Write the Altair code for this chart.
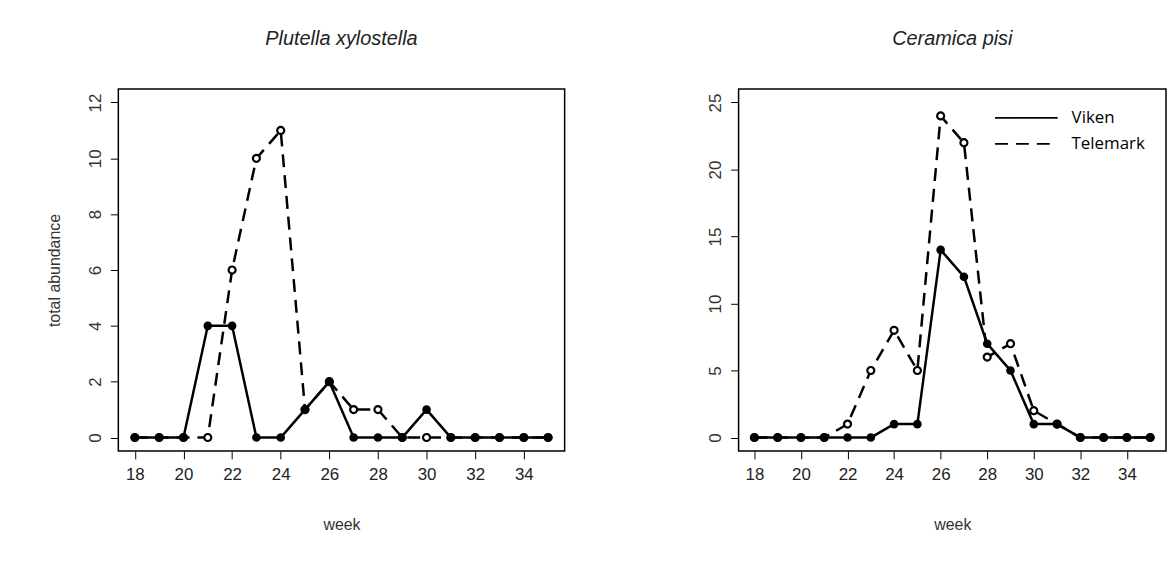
import pandas as pd
import altair as alt

weeks = list(range(18, 36))
plutella_viken = [0, 0, 0, 4, 4, 0, 0, 1, 2, 0, 0, 0, 1, 0, 0, 0, 0, 0]
plutella_telemark = [0, 0, 0, 0, 6, 10, 11, 1, 2, 1, 1, 0, 0, 0, 0, 0, 0, 0]
ceramica_viken = [0, 0, 0, 0, 0, 0, 1, 1, 14, 12, 7, 5, 1, 1, 0, 0, 0, 0]
ceramica_telemark = [0, 0, 0, 0, 1, 5, 8, 5, 24, 22, 6, 7, 2, 1, 0, 0, 0, 0]
legend_labels = ["Viken", "Telemark"]

FONT = "Liberation Sans"


def long(viken, telemark):
    return pd.concat([
        pd.DataFrame({"week": weeks, "abundance": viken, "region": "Viken"}),
        pd.DataFrame({"week": weeks, "abundance": telemark, "region": "Telemark"}),
    ])


def panel(df, title, ydom, yvals, ytitle, legend):
    x = alt.X("week:Q", scale=alt.Scale(domain=[17.32, 35.68], nice=False, zero=False),
              axis=alt.Axis(values=list(range(18, 36, 2)), title="week", titlePadding=34,
                            domain=False, tickColor="black", tickSize=8, grid=False,
                            labelFontSize=17, titleFontSize=16, titleFontWeight="normal",
                            labelColor="#222", titleColor="#333", labelPadding=8))
    y = alt.Y("abundance:Q", scale=alt.Scale(domain=ydom, nice=False, zero=False),
              axis=alt.Axis(values=yvals, title=ytitle, titlePadding=24,
                            domain=False, tickColor="black", tickSize=8, grid=False,
                            labelAngle=-90, labelAlign="center", labelBaseline="bottom",
                            labelFontSize=17, titleFontSize=16, titleFontWeight="normal",
                            labelColor="#333", titleColor="#333", labelPadding=6))
    dash_scale = alt.Scale(domain=legend_labels, range=[[1, 0], [13, 8]])
    dash = alt.StrokeDash("region:N", scale=dash_scale, legend=None)
    base = alt.Chart(df).encode(x=x, y=y)
    lines = base.mark_line(color="black", strokeWidth=2.5).encode(strokeDash=dash, detail="region:N")
    tel = base.transform_filter("datum.region == 'Telemark'").mark_point(
        shape="circle", size=50, filled=False, fill="white", fillOpacity=1,
        stroke="black", strokeWidth=2.2, opacity=1)
    vik = base.transform_filter("datum.region == 'Viken'").mark_point(
        shape="circle", size=75, filled=True, color="black", opacity=1)
    layers = [lines, tel, vik]
    if legend:
        for i, lab in enumerate(legend_labels):
            lb = alt.Chart(pd.DataFrame({"label": [lab]}))
            ypix = 29 + 26 * i
            layers += [
                lb.mark_rule(color="black", strokeWidth=1.8).encode(
                    x=alt.value(258), x2=alt.value(321), y=alt.value(ypix),
                    strokeDash=alt.StrokeDash("label:N", scale=alt.Scale(
                        domain=legend_labels, range=[[1, 0], [12, 7]]), legend=None)),
                lb.mark_text(align="left", baseline="middle", fontSize=17, font="Open Sans",
                             color="black").encode(
                    x=alt.value(335), y=alt.value(ypix), text="label:N"),
            ]
    return alt.layer(*layers).properties(
        width=449, height=364,
        title=alt.Title(title, fontSize=20, fontStyle="italic", fontWeight="normal",
                        color="#222", offset=40))


left = panel(long(plutella_viken, plutella_telemark), "Plutella xylostella",
             [-0.48, 12.48], list(range(0, 13, 2)), "total abundance", False)
right = panel(long(ceramica_viken, ceramica_telemark), "Ceramica pisi",
              [-1, 26], list(range(0, 26, 5)), "", True).properties(width=430)

chart = alt.hconcat(left, right, spacing=141).properties(
    padding={"left": 38, "top": 19, "right": 0, "bottom": 0}).configure(
    font=FONT).configure_view(stroke="black", strokeWidth=1.5)

chart.save("out.html", embed_options={"renderer": "svg", "actions": False})
